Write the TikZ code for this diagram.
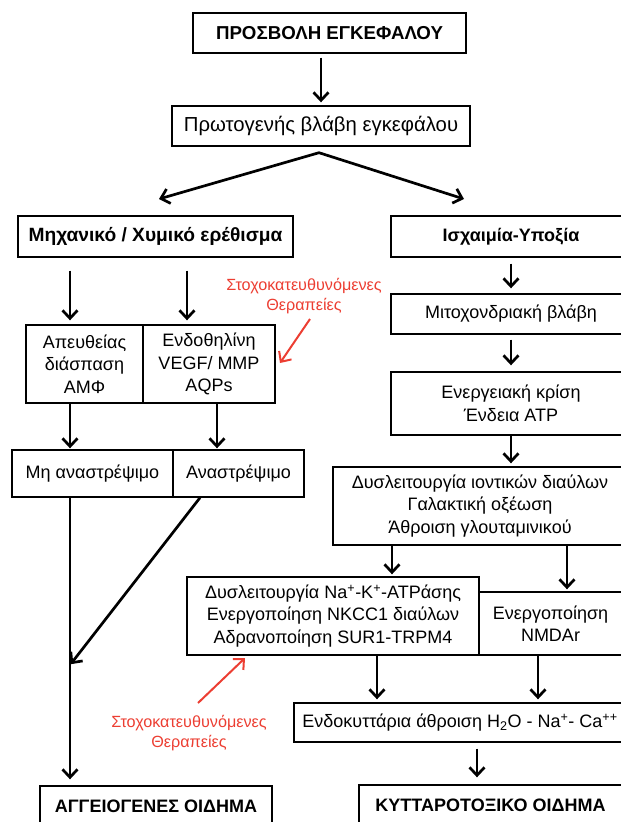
\documentclass[tikz,border=0pt]{standalone}
\usepackage{fontspec}
\setmainfont{Liberation Sans}
\usetikzlibrary{arrows.meta,calc}
\definecolor{tred}{RGB}{236,62,50}

\begin{document}
\begin{tikzpicture}[x=1pt, y=-1pt,
    >={Straight Barb[length=8pt, width=15pt]},
    bx/.style={draw, line width=1.4pt, inner sep=0pt, align=center, font=\fontsize{18}{22.5}\selectfont},
    bbx/.style={bx, font=\fontsize{18}{22.5}\selectfont\bfseries},
    arr/.style={->, line width=2.7pt, shorten <=4pt, shorten >=4pt},
    rarr/.style={->, draw=tred, line width=2pt},
    rlbl/.style={text=tred, align=center, inner sep=0pt, font=\fontsize{16.2}{20}\selectfont}
]
\useasboundingbox (0,0) rectangle (621,822);
\clip (0,0) rectangle (621,822);

\node[bbx, font=\fontsize{18.7}{22.5}\selectfont\bfseries, minimum width=273pt, minimum height=40pt] (insult) at (329.5,33) {ΠΡΟΣΒΟΛΗ ΕΓΚΕΦΑΛΟΥ};
\node[bx, font=\fontsize{20.3}{24}\selectfont, minimum width=298pt, minimum height=40pt] (primary) at (321,126) {Πρωτογενής βλάβη εγκεφάλου};
\node[bbx, font=\fontsize{19.2}{22.5}\selectfont\bfseries, minimum width=275pt, minimum height=41pt] (mech) at (155.5,236.5) {Μηχανικό / Χυμικό ερέθισμα};
\node[bbx, minimum width=240pt, minimum height=41pt] (isch) at (511,236.5) {Ισχαιμία-Υποξία};

\node[bx, minimum width=117pt, minimum height=78pt] (apef) at (84.5,364) {Απευθείας\\διάσπαση\\ΑΜΦ};
\node[bx, minimum width=132pt, minimum height=78pt] (endo) at (209,364) {Ενδοθηλίνη\\VEGF/ MMP\\AQPs};
\node[bx, minimum width=161pt, minimum height=47pt] (irrev) at (92.5,473.5) {Μη αναστρέψιμο};
\node[bx, minimum width=131pt, minimum height=47pt] (rev) at (238.5,473.5) {Αναστρέψιμο};
\node[bbx, minimum width=232pt, minimum height=40pt] (vaso) at (156,806) {ΑΓΓΕΙΟΓΕΝΕΣ ΟΙΔΗΜΑ};

\node[bx, minimum width=240pt, minimum height=40pt] (mito) at (511,314) {Μιτοχονδριακή βλάβη};
\node[bx, minimum width=240pt, minimum height=63pt] (energy) at (511,403.5) {Ενεργειακή κρίση\\Ένδεια ATP};
\node[bx, minimum width=294pt, minimum height=78pt] (chan) at (480,506) {Δυσλειτουργία ιοντικών διαύλων\\Γαλακτική οξέωση\\Άθροιση γλουταμινικού};
\node[bx, minimum width=292pt, minimum height=78pt] (nak) at (333,616) {Δυσλειτουργία Na\textsuperscript{+}-K\textsuperscript{+}-ATPάσης\\Ενεργοποίηση NKCC1 διαύλων\\Αδρανοποίηση SUR1-TRPM4};
\node[bx, minimum width=143pt, minimum height=63pt] (nmda) at (550.5,623.5) {Ενεργοποίηση\\NMDAr};
\node[bx, minimum width=332pt, minimum height=39pt] (intra) at (460,722.5) {Ενδοκυττάρια άθροιση H\textsubscript{2}O - Na\textsuperscript{+}- Ca\textsuperscript{++}};
\node[bbx, minimum width=263pt, minimum height=40pt] (cyto) at (490.5,805) {ΚΥΤΤΑΡΟΤΟΞΙΚΟ ΟΙΔΗΜΑ};

\node[rlbl] (tgtA) at (304,296) {Στοχοκατευθυνόμενες\\Θεραπείες};
\node[rlbl] (tgtB) at (189,733) {Στοχοκατευθυνόμενες\\Θεραπείες};

\coordinate (cA) at (70,0);
\coordinate (cB) at (187,0);
\coordinate (cC) at (217,0);
\coordinate (cD) at (511,0);
\coordinate (cE) at (392,0);
\coordinate (cF) at (567,0);
\coordinate (cG) at (377,0);
\coordinate (cH) at (538,0);
\coordinate (cI) at (477,0);
\coordinate (fork) at ($(primary.south)+(-2,6)$);
\coordinate (mtip) at (159,199);
\coordinate (itip) at (464,199);
\coordinate (join) at (70,665);
\coordinate (ra) at (310,319);
\coordinate (rb) at (280,363);
\coordinate (rc) at (198,703);
\coordinate (rd) at (245,658);

\draw[arr, shorten >=3pt] (primary.north |- insult.south) -- (primary.north);
\draw[arr, <->, shorten <=0pt, shorten >=0pt] (mtip) -- (fork) -- (itip);

\draw[arr, shorten <=13pt] (cA |- mech.south) -- (cA |- apef.north);
\draw[arr, shorten <=13pt] (cB |- mech.south) -- (cB |- endo.north);
\draw[arr, shorten <=0pt, shorten >=1pt] (cA |- apef.south) -- (cA |- irrev.north);
\draw[arr, shorten <=0pt, shorten >=1pt] (cC |- endo.south) -- (cC |- rev.north);
\draw[arr, shorten <=0pt, shorten >=6pt] (cA |- irrev.south) -- (cA |- vaso.north);
\draw[arr, shorten <=0pt, shorten >=1pt] ([xshift=-38.5pt]rev.south) -- (join);

\draw[arr, shorten <=6pt, shorten >=5pt] (cD |- isch.south) -- (cD |- mito.north);
\draw[arr, shorten <=5pt, shorten >=6pt] (cD |- mito.south) -- (cD |- energy.north);
\draw[arr, shorten <=0pt, shorten >=3pt] (cD |- energy.south) -- (cD |- chan.north);
\draw[arr, shorten <=0pt, shorten >=2pt] (cE |- chan.south) -- (cE |- nak.north);
\draw[arr, shorten <=0pt, shorten >=2pt] (cF |- chan.south) -- (cF |- nmda.north);
\draw[arr, shorten <=0pt, shorten >=3pt] (cG |- nak.south) -- (cG |- intra.north);
\draw[arr, shorten <=0pt, shorten >=3pt] (cH |- nmda.south) -- (cH |- intra.north);
\draw[arr, shorten <=6pt, shorten >=7pt] (cI |- intra.south) -- (cI |- cyto.north);

\draw[rarr] (ra) -- (rb);
\draw[rarr] (rc) -- (rd);
\end{tikzpicture}
\end{document}
